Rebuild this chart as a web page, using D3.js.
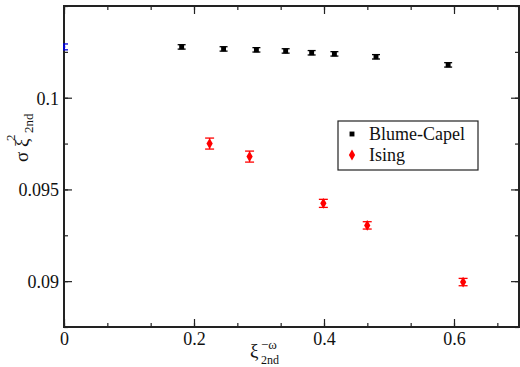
<!DOCTYPE html>
<html>
<head>
<meta charset="utf-8">
<script src="https://cdn.jsdelivr.net/npm/d3@7"></script>
<style>
  body { margin: 0; background: #fff; }
  svg { display: block; }
  svg text { font-family: "Liberation Serif", "DejaVu Serif", "Noto Serif", Times, serif; }
</style>
</head>
<body>
<svg id="chart" width="520" height="367"></svg>
<script>
// Blume-Capel data
const bcX = [0.181, 0.2455, 0.296, 0.341, 0.381, 0.416, 0.480, 0.591];
const bcY = [0.10277, 0.10266, 0.10261, 0.10255, 0.10245, 0.10239, 0.10223, 0.10179];
const bcErr = [0.00012, 0.00012, 0.00012, 0.00012, 0.00012, 0.00012, 0.00012, 0.00012];

// Ising data
const isX = [0.224, 0.2855, 0.399, 0.4665, 0.614];
const isY = [0.0975, 0.09679, 0.09424, 0.09304, 0.08995];
const isErr = [0.0003, 0.0003, 0.00022, 0.0002, 0.0002];

// extrapolated value at x = 0
const limX = [0];
const limY = [0.10277];
const limErr = [0.00016];

const xMajor = [0, 0.2, 0.4, 0.6];
const yMajor = [0.09, 0.095, 0.1];
const seriesNames = ["Blume-Capel", "Ising"];

const margin = { left: 64, top: 6, right: 1, bottom: 40 };
const width = 520, height = 367;

const svg = d3.select("#chart");

const x = d3.scaleLinear().domain([0, 0.7]).range([margin.left, width - margin.right]);
const y = d3.scaleLinear().domain([0.0875, 0.105]).range([height - margin.bottom, margin.top]);

const xMinor = d3.range(0, 0.7001, 0.2 / 3);
const yMinor = d3.range(0.0875, 0.1051, 0.0025);

svg.append("clipPath").attr("id", "clip")
  .append("rect")
  .attr("x", x(0) - 1).attr("y", y(0.105))
  .attr("width", x(0.7) - x(0) + 1).attr("height", y(0.0875) - y(0.105));

// minor ticks
function minorAxis(axis, vals, pos) {
  svg.append("g")
    .attr("transform", pos)
    .call(axis.tickValues(vals).tickSize(-4).tickFormat(""))
    .call(g => g.select(".domain").remove())
    .call(g => g.selectAll("line").attr("stroke", "#222").attr("stroke-width", 1.2));
}
minorAxis(d3.axisBottom(x), xMinor, `translate(0,${y(0.0875)})`);
minorAxis(d3.axisTop(x), xMinor, `translate(0,${y(0.105)})`);
minorAxis(d3.axisLeft(y), yMinor, `translate(${x(0)},0)`);
minorAxis(d3.axisRight(y), yMinor, `translate(${x(0.7)},0)`);

// major ticks + labels
function majorAxis(axis, vals, pos, fmt) {
  return svg.append("g")
    .attr("transform", pos)
    .call(axis.tickValues(vals).tickSize(-8).tickPadding(5).tickFormat(fmt || ""))
    .call(g => g.attr("font-family", null).attr("font-size", null))
    .call(g => g.select(".domain").remove())
    .call(g => g.selectAll("line").attr("stroke", "#222").attr("stroke-width", 1.2))
    .call(g => g.selectAll("text").attr("fill", "#111").style("font-size", "18px"));
}
majorAxis(d3.axisBottom(x), xMajor, `translate(0,${y(0.0875)})`, d => d === 0 ? "0" : d3.format(".1f")(d));
majorAxis(d3.axisTop(x), xMajor, `translate(0,${y(0.105)})`);
majorAxis(d3.axisLeft(y), yMajor, `translate(${x(0)},0)`, d => d === 0.1 ? "0.1" : String(+d.toFixed(3)))
  .selectAll("text").attr("dy", "0.35em");
majorAxis(d3.axisRight(y), yMajor, `translate(${x(0.7)},0)`);

// frame
svg.append("rect")
  .attr("x", x(0)).attr("y", y(0.105))
  .attr("width", x(0.7) - x(0)).attr("height", y(0.0875) - y(0.105))
  .attr("fill", "none").attr("stroke", "#222").attr("stroke-width", 2);

const plot = svg.append("g").attr("clip-path", "url(#clip)");

function errorBars(xs, ys, es, color, cap) {
  const g = plot.append("g").attr("stroke", color).attr("stroke-width", 1.3);
  xs.forEach((xv, i) => {
    const cx = x(xv), y1 = y(ys[i] + es[i]), y2 = y(ys[i] - es[i]);
    g.append("line").attr("x1", cx).attr("x2", cx).attr("y1", y1).attr("y2", y2);
    g.append("line").attr("x1", cx - cap).attr("x2", cx + cap).attr("y1", y1).attr("y2", y1);
    g.append("line").attr("x1", cx - cap).attr("x2", cx + cap).attr("y1", y2).attr("y2", y2);
  });
}

errorBars(bcX, bcY, bcErr, "#000", 4);
errorBars(isX, isY, isErr, "#f00", 4.5);
errorBars(limX, limY, limErr, "#0000dd", 4);

const square = d3.symbol().type(d3.symbolSquare).size(24);
const diamond = d3.symbol().type(d3.symbolDiamond).size(34);

plot.selectAll(".bc").data(bcX).join("path")
  .attr("d", square)
  .attr("transform", (d, i) => `translate(${x(d)},${y(bcY[i])})`)
  .attr("fill", "#000");

plot.selectAll(".is").data(isX).join("path")
  .attr("d", diamond)
  .attr("transform", (d, i) => `translate(${x(d)},${y(isY[i])})`)
  .attr("fill", "#f00");

plot.selectAll(".lim").data(limX).join("path")
  .attr("d", d3.symbol().type(d3.symbolSquare).size(6))
  .attr("transform", (d, i) => `translate(${x(d)},${y(limY[i])})`)
  .attr("fill", "#0000dd");

// legend
const leg = svg.append("g").attr("transform", "translate(338,121)");
leg.append("rect").attr("width", 140).attr("height", 49)
  .attr("fill", "#fff").attr("stroke", "#222").attr("stroke-width", 1.2);
leg.append("path").attr("d", square).attr("transform", "translate(14,13)").attr("fill", "#000");
leg.append("path").attr("d", diamond).attr("transform", "translate(14,34)").attr("fill", "#f00");
leg.selectAll("text").data(seriesNames).join("text")
  .attr("x", 31).attr("y", (d, i) => 19 + i * 21)
  .style("font-size", "18px").attr("fill", "#111")
  .text(d => d);

// y-axis label (rotated)
const yl = svg.append("g").attr("transform", "translate(28,0) rotate(-90)");
yl.append("text").attr("x", -162).attr("y", 0)
  .style("font-size", "19px").attr("fill", "#111").text("σ ξ");
yl.append("text").attr("x", -141).attr("y", -13)
  .style("font-size", "13px").attr("fill", "#111").text("2");
yl.append("text").attr("x", -133).attr("y", 5)
  .style("font-size", "13px").attr("fill", "#111").text("2nd");

// x-axis label
const xl = svg.append("g");
xl.append("text").attr("x", 250).attr("y", 357)
  .style("font-size", "19px").attr("fill", "#111").text("ξ");
xl.append("text").attr("x", 261).attr("y", 349)
  .style("font-size", "13px").attr("fill", "#111").text("−ω");
xl.append("text").attr("x", 261).attr("y", 364)
  .style("font-size", "12px").attr("fill", "#111").text("2nd");
</script>
</body>
</html>
